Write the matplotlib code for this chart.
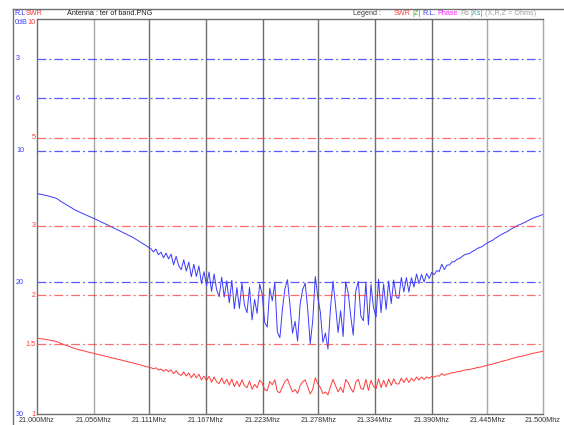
import numpy as np
import matplotlib
matplotlib.use('Agg')
import matplotlib.pyplot as plt
from matplotlib.lines import Line2D
import matplotlib.transforms as mtransforms

plt.rcParams['font.family'] = ['Liberation Sans Narrow', 'Liberation Sans', 'DejaVu Sans']

# 扫频范围 (MHz), 201 个点
freq_start = 21.0
freq_stop = 21.5
n_points = 201

# 回波损耗 R.L (dB)
rl_db = [
    13.25, 13.30, 13.33, 13.38, 13.42, 13.47, 13.53, 13.58, 13.66, 13.80,
    13.92, 14.04, 14.15, 14.27, 14.38, 14.50, 14.59, 14.68, 14.77, 14.85,
    14.94, 15.02, 15.11, 15.19, 15.28, 15.38, 15.47, 15.56, 15.65, 15.75,
    15.84, 15.93, 16.03, 16.12, 16.22, 16.31, 16.41, 16.50, 16.60, 16.72,
    16.84, 16.96, 17.08, 17.20, 17.32, 17.44, 17.68, 17.47, 17.91, 17.70,
    18.14, 17.78, 18.22, 17.86, 18.67, 18.02, 18.73, 19.04, 18.29, 19.15,
    18.46, 19.57, 18.63, 19.55, 18.76, 20.08, 19.19, 20.26, 19.22, 20.69,
    19.36, 20.57, 21.09, 19.60, 21.12, 19.89, 21.55, 19.84, 22.02, 20.40,
    21.98, 20.05, 21.73, 22.31, 20.38, 22.85, 21.30, 22.36, 20.12, 20.90,
    23.04, 23.40, 20.45, 21.40, 20.03, 23.77, 24.21, 22.05, 20.48, 19.80,
    21.76, 23.86, 22.96, 24.46, 21.66, 20.56, 20.06, 22.06, 24.66, 22.86,
    19.56, 21.16, 22.26, 24.56, 23.86, 25.06, 21.96, 19.91, 21.76, 23.81,
    22.16, 24.11, 19.96, 20.81, 22.56, 24.01, 20.67, 19.92, 22.57, 22.92,
    19.98, 23.23, 20.17, 21.90, 22.64, 19.77, 22.30, 20.13, 22.06, 19.90,
    21.61, 19.82, 21.12, 21.22, 19.63, 20.73, 19.64, 20.74, 19.65, 20.36,
    19.37, 20.09, 19.40, 19.97, 19.33, 19.70, 19.25, 19.41, 19.11, 19.17,
    18.62, 19.03, 18.70, 18.68, 18.45, 18.43, 18.25, 18.19, 18.05, 17.90,
    17.85, 17.81, 17.66, 17.57, 17.42, 17.36, 17.28, 17.13, 17.01, 16.90,
    16.82, 16.67, 16.56, 16.42, 16.33, 16.22, 16.14, 16.00, 15.89, 15.80,
    15.67, 15.61, 15.51, 15.44, 15.32, 15.22, 15.13, 15.06, 14.99, 14.92,
    14.85,
]

# 驻波比 SWR
swr = [
    1.556, 1.552, 1.550, 1.546, 1.543, 1.539, 1.534, 1.530, 1.524, 1.513,
    1.504, 1.495, 1.488, 1.480, 1.472, 1.464, 1.458, 1.452, 1.447, 1.442,
    1.436, 1.431, 1.426, 1.421, 1.416, 1.411, 1.406, 1.401, 1.396, 1.390,
    1.385, 1.381, 1.375, 1.371, 1.366, 1.361, 1.356, 1.352, 1.347, 1.341,
    1.336, 1.331, 1.325, 1.320, 1.315, 1.310, 1.301, 1.309, 1.292, 1.300,
    1.283, 1.297, 1.280, 1.294, 1.264, 1.287, 1.262, 1.252, 1.278, 1.248,
    1.271, 1.235, 1.265, 1.235, 1.261, 1.220, 1.247, 1.215, 1.246, 1.203,
    1.241, 1.206, 1.194, 1.234, 1.193, 1.225, 1.183, 1.226, 1.173, 1.211,
    1.173, 1.221, 1.179, 1.166, 1.211, 1.155, 1.189, 1.165, 1.218, 1.198,
    1.151, 1.145, 1.209, 1.186, 1.221, 1.139, 1.132, 1.171, 1.209, 1.227,
    1.178, 1.137, 1.153, 1.128, 1.180, 1.207, 1.220, 1.171, 1.124, 1.155,
    1.235, 1.192, 1.167, 1.126, 1.137, 1.118, 1.174, 1.224, 1.178, 1.138,
    1.169, 1.133, 1.223, 1.200, 1.161, 1.135, 1.204, 1.224, 1.161, 1.154,
    1.223, 1.148, 1.217, 1.175, 1.159, 1.228, 1.166, 1.218, 1.171, 1.225,
    1.181, 1.227, 1.193, 1.191, 1.233, 1.202, 1.233, 1.202, 1.232, 1.212,
    1.241, 1.219, 1.240, 1.223, 1.242, 1.231, 1.245, 1.240, 1.249, 1.247,
    1.266, 1.252, 1.263, 1.264, 1.272, 1.272, 1.279, 1.281, 1.286, 1.292,
    1.294, 1.296, 1.302, 1.305, 1.311, 1.314, 1.317, 1.323, 1.329, 1.333,
    1.337, 1.344, 1.349, 1.355, 1.360, 1.366, 1.370, 1.377, 1.383, 1.388,
    1.395, 1.398, 1.403, 1.407, 1.414, 1.419, 1.425, 1.428, 1.433, 1.437,
    1.442,
]

# 刻度
freq_labels = ['21.000Mhz', '21.056Mhz', '21.111Mhz', '21.167Mhz', '21.223Mhz',
               '21.278Mhz', '21.334Mhz', '21.390Mhz', '21.445Mhz', '21.500Mhz']
rl_ticks = [3, 6, 10, 20]
swr_ticks = [5, 3, 2, 1.5]

BLUE = '#3a3aff'
RED = '#ff3a3a'
GRID = '#6e6e6e'
GRID_LIGHT = '#a8a8a8'

freq = np.linspace(freq_start, freq_stop, n_points)
freq_ticks = [float(s.replace('Mhz', '')) for s in freq_labels]

fig = plt.figure(figsize=(5.64, 4.25), dpi=100)
ax = fig.add_axes([37 / 564, 1 - 414 / 425, 506 / 564, 395 / 425])
ax.set_xlim(freq_start, freq_stop)
ax.set_ylim(30, 0)
ax.set_xticks([])
ax.set_yticks([])
for s in ax.spines.values():
    s.set_color(GRID)
    s.set_linewidth(1)
ax.spines['right'].set_color(GRID_LIGHT)

ax2 = ax.twinx()
ax2.set_yscale('log')
ax2.set_ylim(1, 10)
ax2.set_yticks([])
ax2.set_yticks([], minor=True)
for s in ax2.spines.values():
    s.set_visible(False)

# 竖直网格线
for k, f in enumerate(freq_ticks[1:-1]):
    c = GRID_LIGHT if k in (0, 7) else GRID
    ax.axvline(f, color=c, lw=1, zorder=1)

dash = (0, (7, 2.5, 1.5, 2.5))
for v in rl_ticks:
    ax.axhline(v, color=BLUE, lw=0.9, ls=dash, alpha=0.85, zorder=1)
for v in swr_ticks:
    ax2.axhline(v, color=RED, lw=0.9, ls=dash, alpha=0.75, zorder=1)

ax.plot(freq, rl_db, color=BLUE, lw=0.7, zorder=3)
ax2.plot(freq, swr, color=RED, lw=0.7, zorder=3)

fs = 5.2
# 频率刻度标签 (在图框下方)
bt = mtransforms.blended_transform_factory(ax.transData, ax.transAxes)
for f, lab in zip(freq_ticks, freq_labels):
    ax.text(f, -6.5 / 395, lab, transform=bt, fontsize=fs, ha='center', va='center', color='#303030')

# 左侧刻度标签
lt = mtransforms.blended_transform_factory(fig.transFigure, ax.transData)
for v in rl_ticks + [30]:
    ax.text(16 / 564, v, str(v), transform=lt, fontsize=fs, ha='left', va='center', color=BLUE)
lt2 = mtransforms.blended_transform_factory(fig.transFigure, ax2.transData)
for v in swr_ticks + [1]:
    ax2.text(36 / 564, v, str(v), transform=lt2, fontsize=fs, ha='right', va='center', color=RED)
fig.text(14.5 / 564, 1 - 22 / 425, '0dB', fontsize=fs, ha='left', va='center', color=BLUE)
fig.text(36 / 564, 1 - 22 / 425, '10', fontsize=fs, ha='right', va='center', color=RED)

# 顶部标题行
ty = 1 - 13.5 / 425
t = fig.text(14 / 564, ty, 'R.L', fontsize=fs, ha='left', va='center', color=BLUE)
plt.annotate('SWR', xy=(1, 0.5), xycoords=t, xytext=(0.3, 0), textcoords='offset points',
             fontsize=fs, ha='left', va='center', color=RED)
fig.text(67 / 564, ty, 'Antenna : ter of band.PNG', fontsize=fs, ha='left', va='center', color='#202020')
fig.text(353 / 564, ty, 'Legend :', fontsize=fs, ha='left', va='center', color='#404040')
legend_items = [('SWR', '#ff4040'), ('|Z|', '#40a040'), ('R.L.', '#4040ff'),
                ('Phase', '#ff20ff'), ('Rs', '#a0a0a0'), ('|Xs|', '#40a0a0'),
                ('(X,R,Z = Ohms)', '#a0a0a0')]
prev = fig.text(394 / 564, ty, legend_items[0][0], fontsize=fs, ha='left', va='center',
                color=legend_items[0][1])
for lab, c in legend_items[1:]:
    prev = plt.annotate(lab, xy=(1, 0.5), xycoords=prev, xytext=(1.3, 0), textcoords='offset points',
                        fontsize=fs, ha='left', va='center', color=c)

# 外框线
fig.add_artist(Line2D([13 / 564, 13 / 564], [0, 1 - 9 / 425], transform=fig.transFigure, color='#707070', lw=1))
fig.add_artist(Line2D([13 / 564, 1], [1 - 9 / 425, 1 - 9 / 425], transform=fig.transFigure, color='#707070', lw=1))

fig.savefig('out.png', dpi=100)
